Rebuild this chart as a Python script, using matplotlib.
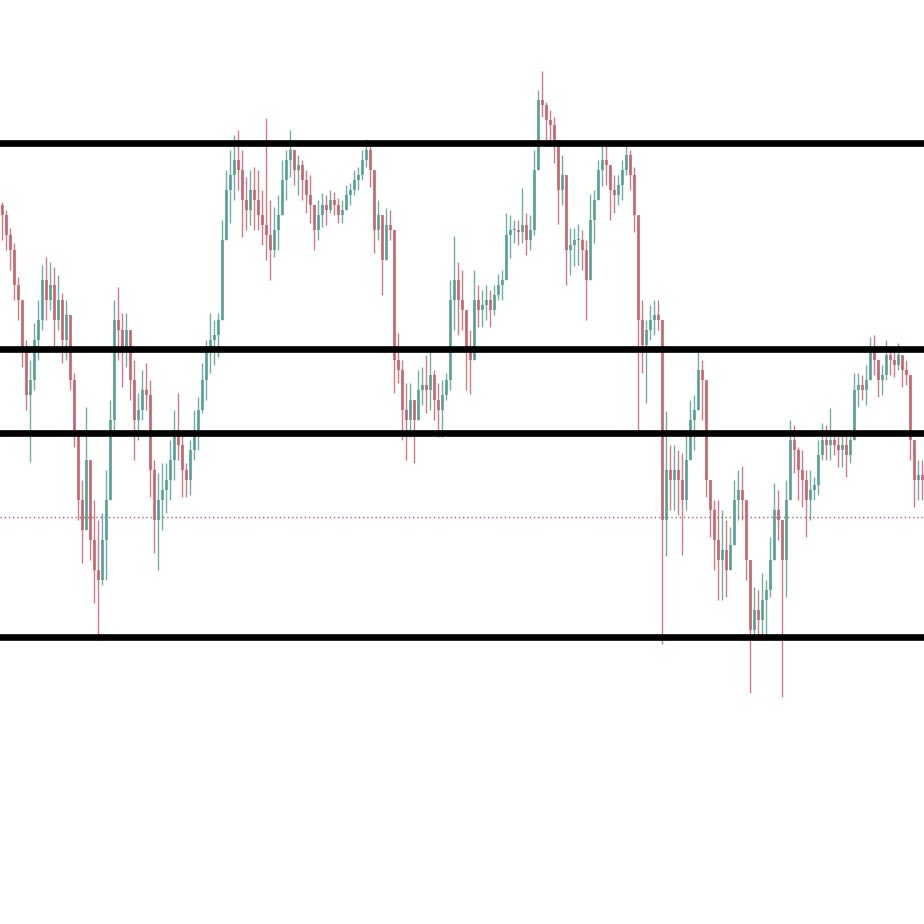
import numpy as np
import matplotlib
matplotlib.use("Agg")
import matplotlib.pyplot as plt

# Price data (arbitrary price units), one candle per entry
high = [722, 714, 696, 681, 647,
        611, 584, 564, 601, 624,
        659, 667, 662, 657, 649,
        631, 624, 604, 551, 494,
        444, 517, 454, 424, 404,
        411, 454, 524, 624, 637,
        611, 611, 584, 564, 531,
        554, 561, 544, 464, 451,
        461, 461, 484, 514, 531,
        494, 461, 484, 514, 527,
        561, 584, 611, 604, 611,
        704, 754, 774, 789, 794,
        774, 747, 754, 757, 754,
        734, 806, 724, 717, 729,
        764, 774, 794, 771, 769,
        764, 754, 749, 714, 724,
        731, 729, 734, 732, 726,
        724, 739, 741, 754, 757,
        774, 785, 779, 741, 724,
        694, 716, 714, 684, 591,
        564, 541, 541, 524, 554,
        557, 569, 572, 554, 541,
        544, 551, 644, 688, 662,
        654, 597, 594, 654, 639,
        634, 639, 634, 639, 650,
        654, 711, 709, 704, 704,
        736, 711, 709, 774, 834,
        853, 822, 814, 807, 769,
        769, 724, 696, 696, 700,
        694, 684, 730, 734, 764,
        780, 782, 757, 749, 749,
        764, 778, 774, 757, 692,
        624, 604, 619, 624, 624,
        604, 513, 479, 479, 474,
        471, 494, 524, 529, 572,
        564, 537, 437, 424, 424,
        414, 404, 397, 444, 454,
        458, 404, 344, 337, 334,
        351, 344, 387, 441, 434,
        404, 444, 504, 499, 477,
        474, 454, 454, 447, 484,
        501, 499, 516, 494, 494,
        494, 489, 494, 551, 551,
        549, 559, 587, 589, 561,
        559, 584, 577, 574, 581,
        567, 564, 537, 474, 464, 464]

low = [684, 674, 654, 624, 604,
       557, 514, 462, 534, 564,
       594, 604, 614, 577, 594,
       561, 564, 534, 477, 404,
       361, 404, 364, 321, 284,
       339, 344, 424, 494, 564,
       537, 557, 524, 464, 484,
       504, 514, 427, 371, 354,
       394, 411, 424, 444, 464,
       427, 427, 429, 464, 474,
       511, 524, 551, 559, 567,
       604, 689, 701, 724, 734,
       687, 694, 699, 694, 694,
       679, 664, 644, 667, 674,
       714, 724, 747, 739, 729,
       724, 711, 701, 674, 684,
       697, 699, 711, 709, 701,
       701, 714, 719, 729, 734,
       744, 757, 737, 671, 684,
       629, 664, 684, 531, 541,
       484, 464, 487, 461, 517,
       519, 511, 514, 504, 487,
       487, 524, 534, 594, 589,
       594, 534, 530, 564, 597,
       597, 604, 597, 609, 624,
       624, 644, 666, 681, 679,
       681, 669, 674, 689, 774,
       807, 784, 784, 761, 700,
       719, 639, 649, 658, 659,
       654, 604, 664, 681, 724,
       738, 739, 704, 711, 719,
       724, 749, 734, 692, 488,
       551, 521, 584, 589, 594,
       280, 368, 414, 414, 409,
       369, 414, 471, 474, 517,
       504, 427, 387, 354, 324,
       324, 327, 354, 384, 404,
       404, 344, 231, 284, 284,
       284, 284, 327, 387, 384,
       227, 327, 454, 451, 424,
       417, 387, 404, 424, 429,
       464, 464, 464, 469, 457,
       457, 447, 461, 494, 517,
       524, 519, 554, 549, 527,
       529, 544, 549, 547, 554,
       537, 539, 464, 417, 424, 424]

close = [709, 689, 674, 639, 624,
         574, 529, 544, 584, 604,
         644, 624, 639, 604, 624,
         584, 609, 544, 494, 424,
         394, 464, 384, 354, 344,
         384, 424, 504, 604, 594,
         574, 594, 544, 504, 514,
         534, 529, 454, 404, 424,
         434, 444, 464, 494, 479,
         454, 444, 474, 494, 514,
         544, 574, 584, 589, 604,
         684, 734, 749, 764, 754,
         724, 714, 734, 724, 709,
         699, 689, 674, 694, 709,
         744, 764, 774, 754, 759,
         744, 729, 719, 694, 709,
         719, 714, 724, 719, 709,
         714, 729, 734, 744, 749,
         764, 774, 754, 694, 709,
         664, 699, 694, 564, 554,
         514, 504, 524, 504, 534,
         539, 534, 549, 524, 514,
         529, 544, 624, 644, 624,
         614, 574, 564, 624, 614,
         619, 624, 614, 629, 639,
         644, 689, 694, 694, 692,
         699, 684, 694, 754, 824,
         819, 804, 799, 784, 734,
         749, 674, 679, 684, 684,
         674, 644, 704, 724, 754,
         764, 759, 734, 729, 739,
         754, 769, 749, 709, 604,
         579, 594, 604, 609, 604,
         404, 454, 444, 454, 444,
         424, 464, 504, 514, 554,
         544, 444, 414, 384, 364,
         374, 354, 379, 424, 434,
         424, 364, 294, 314, 304,
         324, 334, 364, 414, 404,
         364, 424, 484, 474, 454,
         444, 424, 434, 439, 469,
         484, 479, 484, 479, 474,
         479, 469, 484, 534, 539,
         534, 544, 574, 564, 544,
         549, 569, 564, 559, 569,
         554, 549, 484, 444, 449, 444]

levels = [781, 575, 491, 287]
dotted_level = 407

UP = "#4f9a8d"
DOWN = "#c25b67"

close = np.array(close, dtype=float)
high = np.array(high, dtype=float)
low = np.array(low, dtype=float)
n = len(close)
open_ = np.concatenate([[close[0] + 10], close[:-1]])
high = np.maximum(high, np.maximum(open_, close))
low = np.minimum(low, np.minimum(open_, close))
x = np.arange(n)

fig = plt.figure(figsize=(9.24, 9.24), dpi=100)
ax = fig.add_axes([0, 0, 1, 1])
ax.set_xlim(-0.5, n - 0.5)
ax.set_ylim(0, 924)
ax.axis("off")

up = close >= open_
colors = np.where(up, UP, DOWN)

ax.vlines(x, low, high, colors=colors, linewidth=1.0, alpha=0.8, zorder=2)
body_bottom = np.minimum(open_, close)
body_h = np.maximum(np.abs(close - open_), 1.5)
ax.bar(x, body_h, bottom=body_bottom, width=0.75, color=colors,
       alpha=0.75, linewidth=0, zorder=2)

for lv in levels:
    ax.axhline(lv, color="black", linewidth=4.8, zorder=3)
ax.axhline(dotted_level, color="#b06464", linewidth=1.0,
           linestyle=(0, (1, 2)), zorder=1)

fig.savefig("out.png", dpi=100, facecolor="white")
